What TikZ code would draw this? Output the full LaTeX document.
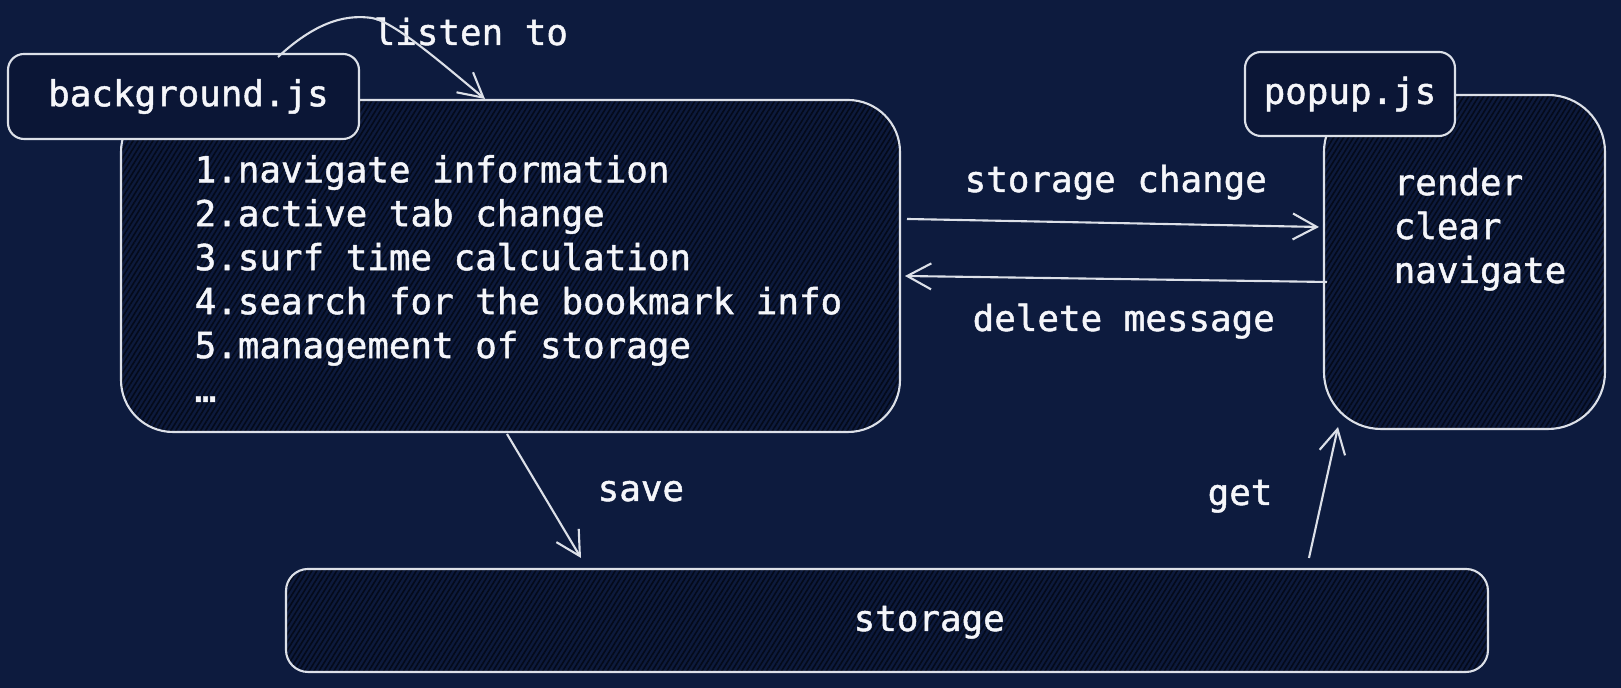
\documentclass[tikz,border=0pt]{standalone}
\usepackage{fontspec}
\newfontfamily\codefont[FakeBold=1.3]{DejaVu Sans Mono}
\usetikzlibrary{arrows.meta,patterns.meta}
\definecolor{navy}{HTML}{0D1B3E}
\definecolor{boxfill}{HTML}{0D1A3C}
\definecolor{lblfill}{HTML}{0B1636}
\definecolor{hatch}{HTML}{040A1A}
\definecolor{ink}{HTML}{DCE0E8}
\definecolor{txt}{HTML}{F5F6FA}
\tikzset{
  hbox/.style={draw=ink,line width=0.6pt,preaction={fill=boxfill},
    pattern={Lines[angle=58,distance=1.2pt,line width=0.45pt]},pattern color=hatch},
  lbox/.style={draw=ink,line width=0.6pt,fill=lblfill,rounded corners=1.6mm,text=txt},
  lbl/.style={text=txt,anchor=base west,inner sep=0pt},
  arr/.style={draw=ink,line width=0.6pt,-{Straight Barb[length=2.4mm,width=2.6mm]}}
}
\begin{document}
\begin{tikzpicture}
[font=\codefont\fontsize{10.2}{12.5}\selectfont]
\useasboundingbox[fill=navy] (0,0) rectangle (16.21,6.88);

% boxes
\node[hbox,rounded corners=5.2mm,minimum width=7.79cm,minimum height=3.32cm] (bg) at (5.105,4.22) {};
\node[hbox,rounded corners=5.7mm,minimum width=2.81cm,minimum height=3.34cm] (pop) at (14.645,4.26) {};
\node[hbox,rounded corners=2.2mm,minimum width=12.02cm,minimum height=1.03cm] (st) at (8.87,0.675) {};

\node[lbox,minimum width=3.51cm,minimum height=0.85cm] (bgl) at (1.835,5.915) {\hspace{0.1cm}background.js};
\node[lbox,minimum width=2.10cm,minimum height=0.84cm] (popl) at (13.50,5.94) {popup.js};

% texts (base = last line)
\node[lbl,align=left] (tasks) at (1.94,2.86) {1.navigate information\\2.active tab change\\3.surf time calculation\\4.search for the bookmark info\\5.management of storage\\…};
\node[lbl,align=left] (acts) at (13.93,4.05) {render\\clear\\navigate};
\node[lbl] (lis) at (3.73,6.43) {listen to};
\node[lbl] (chg) at (9.64,4.96) {storage change};
\node[lbl] (del) at (9.72,3.57) {delete message};
\node[lbl] (sav) at (5.97,1.87) {save};
\node[lbl] (get) at (12.07,1.83) {get};
\node[lbl] (sto) at (8.53,0.57) {storage};

% arrows
\coordinate (l1) at (2.78,6.31);
\coordinate (l2) at (4.85,5.89);
\coordinate (c1) at (9.07,4.69);
\coordinate (c2) at (13.19,4.61);
\coordinate (d1) at (13.27,4.06);
\coordinate (d2) at (9.05,4.12);
\coordinate (s1) at (5.07,2.54);
\coordinate (s2) at (5.81,1.30);
\coordinate (g1) at (13.09,1.30);
\coordinate (g2) at (13.38,2.61);

\draw[arr] (l1) .. controls (3.2,6.70) and (3.5,6.73) .. (3.72,6.70)
  .. controls (3.95,6.66) and (4.45,6.22) .. (l2);
\draw[arr] (c1) -- (c2);
\draw[arr] (d1) -- (d2);
\draw[arr] (s1) -- (s2);
\draw[arr] (g1) -- (g2);
\end{tikzpicture}
\end{document}
